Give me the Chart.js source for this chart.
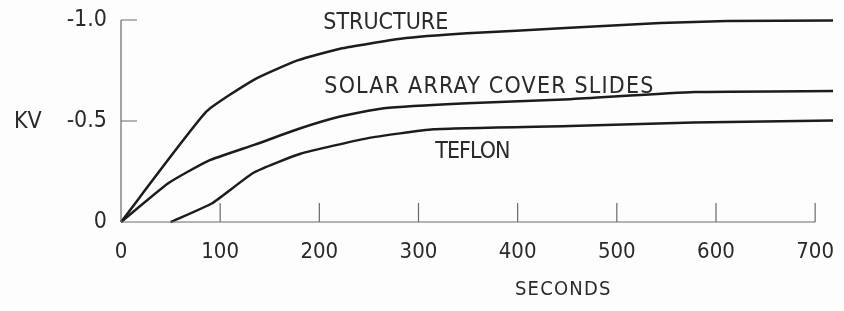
<!DOCTYPE html>
<html>
<head>
<meta charset="utf-8">
<script src="https://cdn.jsdelivr.net/npm/chart.js@4/dist/chart.umd.min.js"></script>
<style>
  html, body { margin: 0; padding: 0; background: #fdfdfd; }
  #wrap { width: 844px; height: 311px; }
</style>
</head>
<body>
<div id="wrap"><canvas id="c" width="844" height="311"></canvas></div>
<script>
// ---- data (seconds, KV) ----
const structureX = [0, 86, 134, 178, 221, 282, 349, 448, 544, 611, 718];
const structureY = [0, -0.546, -0.704, -0.800, -0.858, -0.907, -0.934, -0.960, -0.985, -0.995, -0.997];
const solarX = [0, 48, 88, 135, 181, 221, 265, 349, 453, 578, 718];
const solarY = [0, -0.193, -0.303, -0.383, -0.464, -0.522, -0.563, -0.588, -0.608, -0.643, -0.648];
const teflonX = [50, 92, 134, 181, 248, 315, 453, 577, 718];
const teflonY = [0, -0.093, -0.245, -0.338, -0.414, -0.459, -0.475, -0.493, -0.502];

const xTickValues = [0, 100, 200, 300, 400, 500, 600, 700];
const yTickValues = [0, -0.5, -1.0];
const yTickLabels = ['0', '-0.5', '-1.0'];

const curveLabels = ['STRUCTURE', 'SOLAR ARRAY COVER SLIDES', 'TEFLON'];
const curveLabelX = [204, 205, 317];          // seconds (left edge of text)
const curveLabelY = [-0.954, -0.637, -0.315]; // KV (text baseline)
const xTitle = 'SECONDS';
const yTitle = 'KV';

// label letter spacing (style, px)
const curveLabelSpacing = [0, 1.2, -1.0];

const FONT = "'DejaVu Sans Condensed', 'Liberation Sans Narrow', 'DejaVu Sans', sans-serif";
const INK = '#1c1c1c';
const TXT = '#2a2a2a';

function pts(xs, ys) { return xs.map((x, i) => ({ x: x, y: ys[i] })); }

const axisPlugin = {
  id: 'oldAxes',
  afterDatasetsDraw(chart) {
    const ctx = chart.ctx;
    const xs = chart.scales.x, ys = chart.scales.y;
    const x0 = xs.getPixelForValue(0);
    const y0 = ys.getPixelForValue(0);
    const yTop = ys.getPixelForValue(-1.0);
    const xEnd = xs.getPixelForValue(700);
    ctx.save();
    ctx.strokeStyle = '#6a6a6a';
    ctx.lineWidth = 1.2;
    ctx.beginPath();
    ctx.moveTo(x0, yTop); ctx.lineTo(x0, y0);
    ctx.moveTo(x0, y0); ctx.lineTo(xEnd, y0);
    [-1.0, -0.5].forEach(v => {
      const p = ys.getPixelForValue(v);
      ctx.moveTo(x0, p); ctx.lineTo(x0 + 16, p);
    });
    xTickValues.slice(1).forEach(v => {
      const p = xs.getPixelForValue(v);
      ctx.moveTo(p, y0); ctx.lineTo(p, y0 - 19);
    });
    ctx.stroke();

    ctx.fillStyle = TXT;
    ctx.textBaseline = 'alphabetic';
    ctx.textAlign = 'left';
    ctx.font = "23px " + FONT;
    curveLabels.forEach((t, i) => {
      try { ctx.letterSpacing = curveLabelSpacing[i] + 'px'; } catch (e) {}
      ctx.fillText(t, xs.getPixelForValue(curveLabelX[i]), ys.getPixelForValue(curveLabelY[i]));
    });
    ctx.font = "20px " + FONT;
    try { ctx.letterSpacing = '1.2px'; } catch (e) {}
    ctx.textAlign = 'center';
    ctx.fillText(xTitle, xs.getPixelForValue(446), y0 + 73);
    ctx.textAlign = 'left';
    ctx.font = "23px " + FONT;
    try { ctx.letterSpacing = '0px'; } catch (e) {}
    ctx.fillText(yTitle, 14, ys.getPixelForValue(-0.465));
    ctx.restore();
  }
};

const lineStyle = {
  borderColor: INK,
  borderWidth: 2.5,
  pointRadius: 0,
  tension: 0.15,
  fill: false,
  clip: false
};

new Chart(document.getElementById('c'), {
  type: 'line',
  data: {
    datasets: [
      Object.assign({ label: curveLabels[0], data: pts(structureX, structureY) }, lineStyle),
      Object.assign({ label: curveLabels[1], data: pts(solarX, solarY) }, lineStyle),
      Object.assign({ label: curveLabels[2], data: pts(teflonX, teflonY) }, lineStyle)
    ]
  },
  options: {
    responsive: false,
    animation: false,
    devicePixelRatio: 1,
    layout: { padding: { left: 0, right: 11, top: 20, bottom: 0 } },
    plugins: { legend: { display: false }, tooltip: { enabled: false } },
    scales: {
      x: {
        type: 'linear',
        min: 0, max: 718,
        grid: { display: false, drawTicks: false },
        border: { display: false },
        afterFit(scale) {
          scale.height = 89;
          scale.paddingLeft = 0; scale.paddingRight = 0;
          scale.paddingTop = 0; scale.paddingBottom = 0;
        },
        afterBuildTicks(scale) { scale.ticks = xTickValues.map(v => ({ value: v })); },
        ticks: {
          padding: 17,
          color: TXT,
          font: { family: FONT, size: 22 },
          maxRotation: 0,
          autoSkip: false
        }
      },
      y: {
        type: 'linear',
        min: -1, max: 0,
        reverse: true,
        grid: { display: false, drawTicks: false },
        border: { display: false },
        afterFit(scale) {
          scale.width = 121;
          scale.paddingLeft = 0; scale.paddingRight = 0;
          scale.paddingTop = 0; scale.paddingBottom = 0;
        },
        afterBuildTicks(scale) { scale.ticks = yTickValues.map(v => ({ value: v })); },
        ticks: {
          padding: 14,
          color: TXT,
          font: { family: FONT, size: 23 },
          callback: (v) => yTickLabels[yTickValues.indexOf(v)]
        }
      }
    }
  },
  plugins: [axisPlugin]
});
</script>
</body>
</html>
